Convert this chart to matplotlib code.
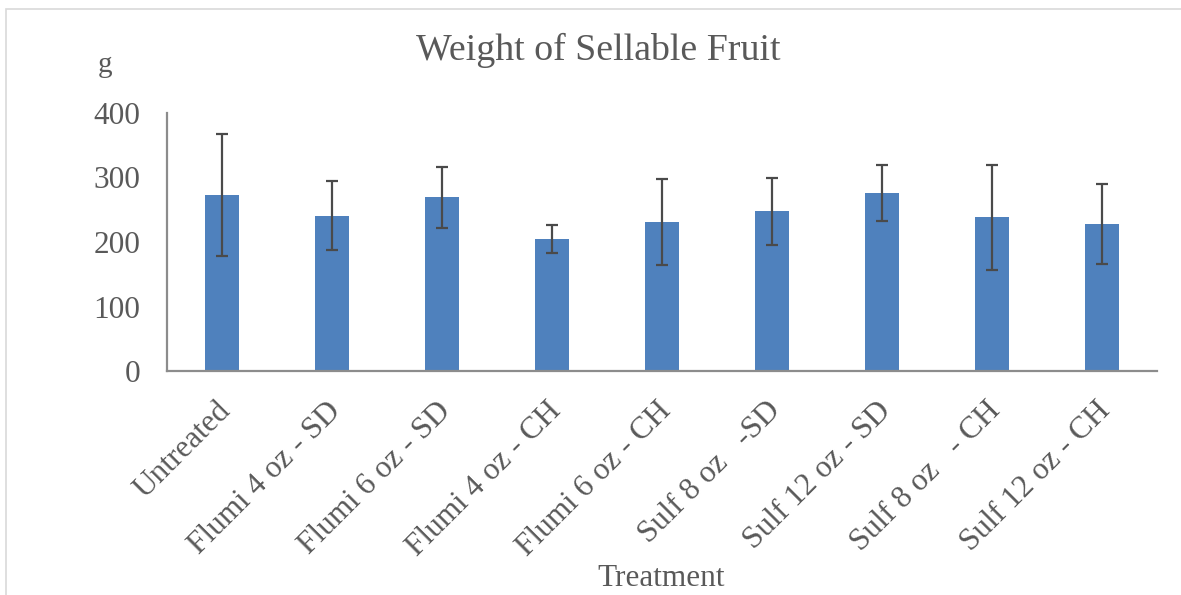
import matplotlib
matplotlib.use("Agg")
import matplotlib.pyplot as plt
from matplotlib.patches import Rectangle
from matplotlib.transforms import ScaledTranslation

categories = ["Untreated", "Flumi 4 oz - SD", "Flumi 6 oz - SD", "Flumi 4 oz - CH",
              "Flumi 6 oz - CH", "Sulf 8 oz   -SD", "Sulf 12 oz - SD", "Sulf 8 oz   - CH",
              "Sulf 12 oz - CH"]
weights = [273, 241, 269, 205, 231, 248, 276, 238, 228]
errors = [94, 54, 48, 22, 66, 52, 43, 82, 62]
yticks = [0, 100, 200, 300, 400]

plt.rcParams['font.family'] = ['Liberation Serif', 'DejaVu Serif']
txt = '#595959'

fig = plt.figure(figsize=(11.81, 5.95), dpi=100)
ax = fig.add_axes([167/1181, 1-371/595, (1157-167)/1181, (371-113)/595])

x = list(range(len(categories)))
ax.bar(x, weights, width=0.31, color='#4F81BD', zorder=2)
ax.errorbar(x, weights, yerr=errors, fmt='none', ecolor='#4a4a4a', elinewidth=1.6,
            capsize=4.5, capthick=1.6, zorder=3)

ax.set_xlim(-0.5, len(categories) - 0.5)
ax.set_ylim(0, 400)
ax.set_yticks(yticks)
ax.set_yticklabels([str(v) for v in yticks], fontsize=22.5, color=txt)
ax.set_xticks(x)
ax.set_xticklabels(categories, rotation=45, ha='right', rotation_mode='anchor',
                   fontsize=22.5, color=txt)
ax.tick_params(axis='y', length=0, pad=19)
ax.tick_params(axis='x', length=0, pad=16)
shift = ScaledTranslation(-6/100, -3/100, fig.dpi_scale_trans)
for lbl in ax.get_xticklabels():
    lbl.set_transform(lbl.get_transform() + shift)
for s in ['top', 'right']:
    ax.spines[s].set_visible(False)
for s in ['left', 'bottom']:
    ax.spines[s].set_color('#8c8c8c')
    ax.spines[s].set_linewidth(1.6)

fig.text(598/1181, 1-50/595, "Weight of Sellable Fruit", fontsize=27.3, color=txt,
         ha='center', va='center')
fig.text(105/1181, 1-65/595, "g", fontsize=21, color=txt, ha='center', va='center')
fig.text(661/1181, 1-578/595, "Treatment", fontsize=22.5, color=txt, ha='center', va='center')

fig.patches.append(Rectangle((6/1181, -0.1), 1.2, 1 - 9/595 + 0.1, transform=fig.transFigure,
                             fill=False, edgecolor='#d9d9d9', linewidth=1.2))

fig.savefig("out.png", dpi=100)
